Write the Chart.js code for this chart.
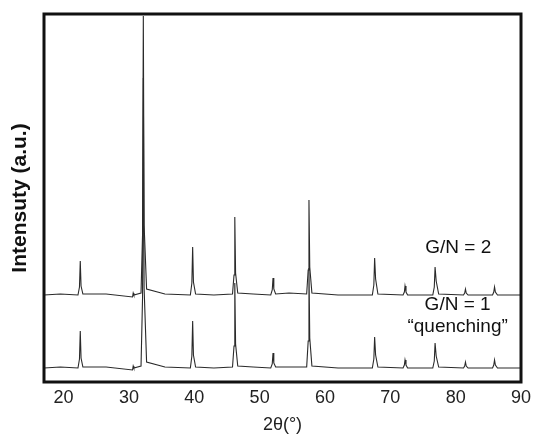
<!DOCTYPE html>
<html>
<head>
<meta charset="utf-8">
<script src="https://cdn.jsdelivr.net/npm/chart.js@4.4.1/dist/chart.umd.min.js"></script>
<style>
  html, body { margin: 0; padding: 0; background: #fff; }
</style>
</head>
<body>
<canvas id="chart" width="539" height="444"></canvas>
<script>
// 2theta grid (degrees), shared by both patterns
const twoTheta = [
  17.0, 19.5,
  22.2, 22.43, 22.55, 22.67, 22.95,
  26.5,
  30.55, 30.65, 30.75,
  31.85, 32.08, 32.2, 32.32, 32.7,
  35.5,
  39.4, 39.63, 39.75, 39.87, 40.2,
  43.0,
  45.85, 46.08, 46.2, 46.32, 46.65,
  49.0,
  51.7, 51.93, 52.05, 52.17, 52.45,
  54.5,
  57.2, 57.43, 57.55, 57.67, 58.0,
  62.0,
  67.25, 67.48, 67.6, 67.75, 68.1,
  71.95, 72.15, 72.25, 72.4, 72.65,
  76.5, 76.73, 76.85, 77.02, 77.4,
  81.2, 81.38, 81.5, 81.62, 81.9,
  85.65, 85.83, 85.95, 86.08, 86.4,
  90.0
];

// G/N = 2 (upper pattern), intensity above its own baseline
const intensityGN2 = [
  0, 1,
  0, 8, 34, 9, 1,
  1,
  -2, 2, 0,
  2, 60, 279, 70, 6,
  1,
  0, 12, 48, 13, 1,
  0,
  1, 20, 78, 22, 2,
  1,
  0, 5, 17, 6, 1,
  2,
  1, 25, 95, 28, 2,
  0,
  0, 10, 37, 16, 1,
  0, 3, 9, 3, 0,
  0, 8, 28, 14, 1,
  0, 2, 6, 2, 0,
  0, 3, 8, 3, 0,
  0
];

// G/N = 1 "quenching" (lower pattern)
const intensityGN1 = [
  0, 1,
  0, 9, 37, 10, 1,
  1,
  -2, 2, 0,
  2, 70, 290, 80, 6,
  1,
  0, 12, 47, 13, 1,
  0,
  1, 22, 85, 24, 2,
  1,
  0, 4, 15, 5, 1,
  1,
  1, 27, 100, 30, 2,
  0,
  0, 9, 31, 13, 1,
  0, 3, 8, 3, 0,
  0, 7, 25, 12, 1,
  0, 2, 6, 2, 0,
  0, 3, 8, 3, 0,
  0
];

// vertical stacking offsets of the two patterns
const offsetGN1 = 14;
const offsetGN2 = 87;

const xTicks = [20, 30, 40, 50, 60, 70, 80, 90];

const labelTexts = ['G/N = 2', 'G/N = 1', '\u201Cquenching\u201D'];
const labelX = [80.4, 80.3, 80.3];
const labelY = [134, 77, 55];

const FONT = 'Arial, "Liberation Sans", sans-serif';

const toPoints = (vals, off) => vals.map((v, i) => ({ x: twoTheta[i], y: v + off }));

const framePlugin = {
  id: 'frame',
  afterDatasetsDraw(chart) {
    const { ctx, chartArea: a } = chart;
    ctx.save();
    ctx.strokeStyle = '#111';
    ctx.lineWidth = 3;
    ctx.strokeRect(a.left, a.top, a.right - a.left, a.bottom - a.top);
    ctx.restore();
  }
};

const labelPlugin = {
  id: 'seriesLabels',
  afterDraw(chart) {
    const { ctx, scales } = chart;
    ctx.save();
    ctx.fillStyle = '#111';
    ctx.font = '19px ' + FONT;
    ctx.textAlign = 'center';
    ctx.textBaseline = 'middle';
    labelTexts.forEach((t, i) => {
      ctx.fillText(t, scales.x.getPixelForValue(labelX[i]), scales.y.getPixelForValue(labelY[i]));
    });
    ctx.restore();
  }
};

new Chart(document.getElementById('chart'), {
  type: 'line',
  data: {
    datasets: [
      {
        label: 'G/N = 1 "quenching"',
        data: toPoints(intensityGN1, offsetGN1),
        borderColor: '#2a2a2a',
        borderWidth: 1.1,
        pointRadius: 0,
        tension: 0,
      },
      {
        label: 'G/N = 2',
        data: toPoints(intensityGN2, offsetGN2),
        borderColor: '#2a2a2a',
        borderWidth: 1.1,
        pointRadius: 0,
        tension: 0,
      },
    ],
  },
  options: {
    responsive: false,
    animation: false,
    layout: { padding: { top: 14, right: 18, left: 0, bottom: 0 } },
    plugins: { legend: { display: false }, tooltip: { enabled: false } },
    scales: {
      x: {
        type: 'linear',
        min: 17,
        max: 90,
        afterBuildTicks: (scale) => { scale.ticks = xTicks.map((v) => ({ value: v })); },
        afterFit: (scale) => { scale.height = 62; },
        grid: { display: false, drawTicks: false },
        border: { display: false },
        ticks: { padding: 5, color: '#222', font: { family: FONT, size: 18 }, autoSkip: false, maxRotation: 0 },
        title: {
          display: true,
          text: '2\u03B8(\u00B0)',
          color: '#222',
          font: { family: FONT, size: 18 },
          padding: { top: 0, bottom: 8 },
        },
      },
      y: {
        min: 0,
        max: 368,
        afterFit: (scale) => { scale.width = 44; },
        grid: { display: false, drawTicks: false },
        border: { display: false },
        ticks: { display: false },
        title: {
          display: true,
          text: 'Intensuty (a.u.)',
          color: '#111',
          font: { family: FONT, size: 21, weight: 'bold' },
          padding: { top: 8, bottom: 0 },
        },
      },
    },
  },
  plugins: [framePlugin, labelPlugin],
});
</script>
</body>
</html>
